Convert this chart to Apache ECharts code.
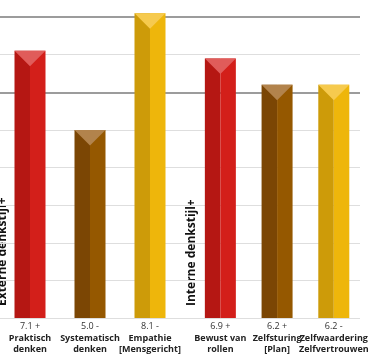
<!DOCTYPE html>
<html>
<head>
<meta charset="utf-8">
<script src="https://cdn.jsdelivr.net/npm/echarts@6/dist/echarts.min.js"></script>
<style>
html,body{margin:0;padding:0;background:#fff;}
#c{width:370px;height:360px;}
</style>
</head>
<body>
<div id="c"></div>
<script>
// ---- data ----
const groupTitles = ['Externe denkstijl+', 'Interne denkstijl+'];
const cats1 = ['Praktisch\ndenken', 'Systematisch\ndenken', 'Empathie\n[Mensgericht]'];
const scores1 = ['7.1 +', '5.0 -', '8.1 -'];
const values1 = [7.1, 5.0, 8.1];
const cats2 = ['Bewust van\nrollen', 'Zelfsturing\n[Plan]', 'Zelfwaardering\nZelfvertrouwen'];
const scores2 = ['6.9 +', '6.2 +', '6.2 -'];
const values2 = [6.9, 6.2, 6.2];
const yTicks = [0, 1, 2, 3, 4, 5, 6, 7, 8];

// ---- styles ----
const palette = [
  {dark: '#b51713', light: '#d31f1a', top: '#e05c5a'},
  {dark: '#7b4604', light: '#955800', top: '#b2834c'},
  {dark: '#cd9b09', light: '#eeb60b', top: '#f6ca4e'}
];
const FONT = '"Open Sans", sans-serif';

function renderBar(params, api) {
  const xi = api.value(0), v = api.value(1);
  const p = api.coord([xi, v]);
  const b = api.coord([xi, 0]);
  const w = 31;
  const l = p[0] - w / 2, r = p[0] + w / 2, c = p[0];
  const t = p[1], bot = b[1];
  const col = palette[params.dataIndex];
  return {
    type: 'group',
    children: [
      {type: 'rect', shape: {x: l, y: t, width: w / 2, height: bot - t}, style: {fill: col.dark}},
      {type: 'rect', shape: {x: c, y: t, width: w / 2, height: bot - t}, style: {fill: col.light}},
      {type: 'polygon', shape: {points: [[l, t], [r, t], [c, t + w / 2]]}, style: {fill: col.top}}
    ]
  };
}

function labelFmt(scores) {
  return function (val, idx) {
    const parts = val.split('\n');
    return '{s|' + scores[idx] + '}\n' + parts.map(p => '{b|' + p + '}').join('\n');
  };
}
const rich = {
  s: {fontFamily: FONT, fontSize: 9, color: '#333', lineHeight: 11.5},
  b: {fontFamily: FONT, fontSize: 9, fontWeight: 'bold', color: '#222', lineHeight: 11.5}
};

const lightColors = yTicks.map(t => '#dedede');
const gTop = 17, gBottom = 42;

const option = {
  backgroundColor: '#fff',
  animation: false,
  grid: [
    {left: 0, right: 10, top: gTop, bottom: gBottom},
    {left: 0, width: 180, top: gTop, bottom: gBottom},
    {left: 192, width: 180, top: gTop, bottom: gBottom}
  ],
  xAxis: [
    {gridIndex: 0, type: 'category', data: ['a'], show: false},
    {gridIndex: 1, type: 'category', data: cats1, axisLine: {show: false}, axisTick: {show: false},
      axisLabel: {interval: 0, margin: 3, formatter: labelFmt(scores1), rich: rich}},
    {gridIndex: 2, type: 'category', data: cats2, axisLine: {show: false}, axisTick: {show: false},
      axisLabel: {interval: 0, margin: 3, formatter: labelFmt(scores2), rich: rich}}
  ],
  yAxis: [
    {gridIndex: 0, type: 'value', min: 0, max: 8, interval: 1, axisLabel: {show: false},
      axisLine: {show: false}, axisTick: {show: false},
      splitLine: {show: true, lineStyle: {color: lightColors, width: 1}}},
    {gridIndex: 0, type: 'value', min: 0, max: 8, interval: 2, axisLabel: {show: false},
      axisLine: {show: false}, axisTick: {show: false},
      splitLine: {show: true, lineStyle: {color: ['rgba(0,0,0,0)', 'rgba(0,0,0,0)', 'rgba(0,0,0,0)', '#9c9c9c', '#9c9c9c'], width: 2}}},
    {gridIndex: 1, type: 'value', min: 0, max: 8, interval: 1, show: false},
    {gridIndex: 2, type: 'value', min: 0, max: 8, interval: 1, show: false}
  ],
  series: [
    {type: 'custom', xAxisIndex: 1, yAxisIndex: 2, clip: false, renderItem: renderBar,
      data: values1.map((v, i) => [i, v])},
    {type: 'custom', xAxisIndex: 2, yAxisIndex: 3, clip: false, renderItem: renderBar,
      data: values2.map((v, i) => [i, v])}
  ],
  graphic: [
    {type: 'text', x: 3, y: 306, rotation: Math.PI / 2,
      style: {text: groupTitles[0], font: 'bold 12px ' + FONT, fill: '#111', textAlign: 'left', textVerticalAlign: 'middle'}},
    {type: 'text', x: 191.5, y: 306, rotation: Math.PI / 2,
      style: {text: groupTitles[1], font: 'bold 12px ' + FONT, fill: '#111', textAlign: 'left', textVerticalAlign: 'middle'}}
  ]
};

const chart = echarts.init(document.getElementById('c'), null, {renderer: 'canvas'});
chart.setOption(option);
</script>
</body>
</html>
